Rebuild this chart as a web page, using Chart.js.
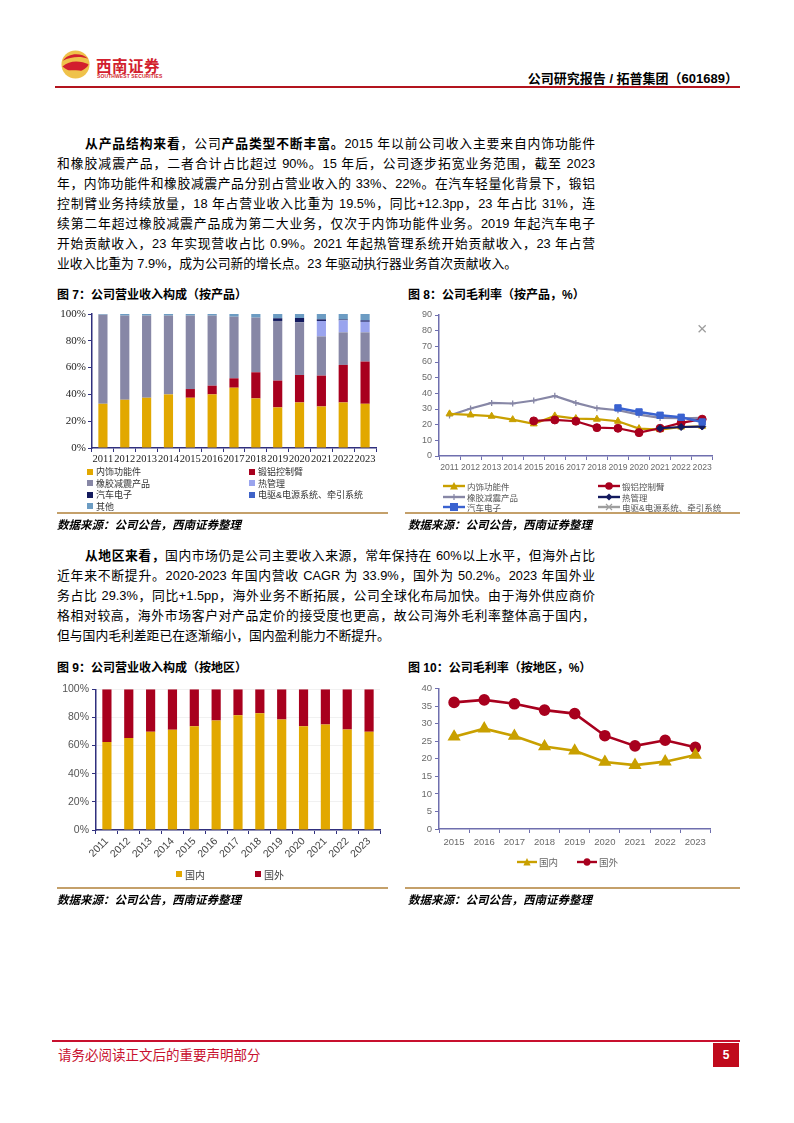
<!DOCTYPE html>
<html lang="zh">
<head>
<meta charset="utf-8">
<script src="https://cdn.jsdelivr.net/npm/chart.js@4.4.1/dist/chart.umd.min.js"></script>
<style>
  body { margin:0; width:794px; height:1123px; background:#fff; position:relative; overflow:hidden;
         font-family:"Liberation Sans","Noto Sans CJK SC",sans-serif; color:#000; }
  .abs { position:absolute; }
  .para div { height:20px; line-height:20px; font-size:12.8px; width:538px; text-align:justify; text-align-last:justify; overflow:hidden; }
  .para div.last { text-align:left; text-align-last:left; width:600px; }
  .para b { font-weight:bold; }
  .ftitle { font-size:12px; font-weight:bold; white-space:nowrap; }
  .src { font-size:11.5px; font-style:italic; font-weight:bold; white-space:nowrap; }
  .sep { height:1.5px; background:#C4A06A; }
  .legend { display:grid; font-size:9px; color:#333; }
  .legend .it { display:flex; align-items:center; white-space:nowrap; }
  .legend .sq { width:6px; height:6px; margin-right:3px; flex:none; }
  .legend svg { margin-right:2px; flex:none; }
</style>
</head>
<body>
<!-- header -->
<svg class="abs" style="left:61px;top:50px" width="29" height="29" viewBox="0 0 30 30">
  <circle cx="15" cy="15" r="14.5" fill="#EFC24B"/>
  <path d="M2,11 C7,3 21,2 28,9 C20,6 10,7 2,11Z" fill="#D21F2E"/>
  <path d="M1.5,17 C9,10 21,11 28.5,15 C24,24 10,25 1.5,17Z" fill="#D21F2E"/>
  <path d="M4,22 C10,20 18,21 25,22 C20,28 9,28 4,22Z" fill="#EFC24B"/>
</svg>
<div class="abs" style="left:96px;top:54px;font-size:15.5px;color:#D21F2E;font-weight:bold;letter-spacing:0.5px;font-family:'Noto Sans CJK SC'">西南证券</div>
<div class="abs" style="left:97px;top:73px;font-size:5px;color:#D21F2E;font-weight:bold;letter-spacing:0.1px">SOUTHWEST SECURITIES</div>
<div class="abs" style="right:56px;top:68px;font-size:13px;font-weight:bold;white-space:nowrap">公司研究报告 / 拓普集团（601689）</div>
<div class="abs" style="left:55px;top:86px;width:685px;height:1.5px;background:#B3141E"></div>

<!-- paragraph 1 -->
<div class="abs para" style="left:57px;top:134px">
  <div style="padding-left:28px;width:510px"><b>从产品结构来看</b>，公司<b>产品类型不断丰富。</b>2015 年以前公司收入主要来自内饰功能件</div>
  <div>和橡胶减震产品，二者合计占比超过 90%。15 年后，公司逐步拓宽业务范围，截至 2023</div>
  <div>年，内饰功能件和橡胶减震产品分别占营业收入的 33%、22%。在汽车轻量化背景下，锻铝</div>
  <div>控制臂业务持续放量，18 年占营业收入比重为 19.5%，同比+12.3pp，23 年占比 31%，连</div>
  <div>续第二年超过橡胶减震产品成为第二大业务，仅次于内饰功能件业务。2019 年起汽车电子</div>
  <div>开始贡献收入，23 年实现营收占比 0.9%。2021 年起热管理系统开始贡献收入，23 年占营</div>
  <div class="last">业收入比重为 7.9%，成为公司新的增长点。23 年驱动执行器业务首次贡献收入。</div>
</div>

<div class="abs ftitle" style="left:57px;top:285px">图 7：公司营业收入构成（按产品）</div>
<div class="abs ftitle" style="left:408px;top:285px">图 8：公司毛利率（按产品，%）</div>

<canvas id="c7" class="abs" style="left:55px;top:305px" width="325" height="165"></canvas>
<canvas id="c8" class="abs" style="left:405px;top:305px" width="314" height="171"></canvas>
<div id="lg7" class="abs legend" style="left:87px;top:466px;grid-template-columns:162px 150px;grid-auto-rows:11.5px"></div>
<div id="lg8" class="abs legend" style="left:443px;top:481px;grid-template-columns:155px 140px;grid-auto-rows:10.4px;font-size:8.5px;color:#555"></div>

<div class="abs sep" style="left:57px;top:512px;width:331px"></div>
<div class="abs sep" style="left:405px;top:512px;width:335px"></div>
<div class="abs src" style="left:57px;top:516px">数据来源：公司公告，西南证券整理</div>
<div class="abs src" style="left:408px;top:516px">数据来源：公司公告，西南证券整理</div>

<!-- paragraph 2 -->
<div class="abs para" style="left:57px;top:546px">
  <div style="padding-left:28px;width:510px"><b>从地区来看，</b>国内市场仍是公司主要收入来源，常年保持在 60%以上水平，但海外占比</div>
  <div>近年来不断提升。2020-2023 年国内营收 CAGR 为 33.9%，国外为 50.2%。2023 年国外业</div>
  <div>务占比 29.3%，同比+1.5pp，海外业务不断拓展，公司全球化布局加快。由于海外供应商价</div>
  <div>格相对较高，海外市场客户对产品定价的接受度也更高，故公司海外毛利率整体高于国内，</div>
  <div class="last">但与国内毛利差距已在逐渐缩小，国内盈利能力不断提升。</div>
</div>

<div class="abs ftitle" style="left:57px;top:658px">图 9：公司营业收入构成（按地区）</div>
<div class="abs ftitle" style="left:408px;top:658px">图 10：公司毛利率（按地区，%）</div>

<canvas id="c9" class="abs" style="left:55px;top:680px" width="327" height="190"></canvas>
<canvas id="c10" class="abs" style="left:405px;top:680px" width="313" height="169"></canvas>
<div id="lg9" class="abs legend" style="left:176px;top:868px;grid-template-columns:79px 60px;grid-auto-rows:12px;font-size:10px;color:#444"></div>
<div id="lg10" class="abs legend" style="left:517px;top:856px;grid-template-columns:60px 60px;grid-auto-rows:12px;font-size:9.5px;color:#666"></div>

<div class="abs sep" style="left:57px;top:887px;width:331px"></div>
<div class="abs sep" style="left:405px;top:887px;width:335px"></div>
<div class="abs src" style="left:57px;top:891px">数据来源：公司公告，西南证券整理</div>
<div class="abs src" style="left:408px;top:891px">数据来源：公司公告，西南证券整理</div>

<!-- footer -->
<div class="abs" style="left:52px;top:1040px;width:688px;height:1.5px;background:#C8102E"></div>
<div class="abs" style="left:58px;top:1044px;font-size:13.5px;color:#C8102E;white-space:nowrap">请务必阅读正文后的重要声明部分</div>
<div class="abs" style="left:713px;top:1043px;width:26px;height:24px;background:#C00A1C;color:#fff;font-size:12px;font-weight:bold;text-align:center;line-height:24px">5</div>

<script>
// ---- data ----
const years = ['2011', '2012', '2013', '2014', '2015', '2016', '2017', '2018', '2019', '2020', '2021', '2022', '2023'];
const years15 = ['2015', '2016', '2017', '2018', '2019', '2020', '2021', '2022', '2023'];

// 图7 revenue mix by product (%)
const shareInterior   = [33, 36, 37.5, 40, 37.5, 40, 45, 37, 30.3, 34, 31, 34, 33];
const shareControlArm = [0, 0, 0, 0, 6.5, 6.5, 7, 19.5, 20, 20.5, 23, 28, 31.5];
const shareRubber     = [66.5, 62.8, 61.3, 58.8, 54.8, 52.3, 46, 40.8, 44.5, 39.3, 29.3, 24.3, 21.8];
const shareThermal    = [0, 0, 0, 0, 0, 0, 0, 0, 0, 0, 11.5, 9, 7.9];
const shareAutoElec   = [0, 0, 0, 0, 0, 0, 0, 0, 2, 3.2, 1.2, 0.6, 1];
const shareEDrive     = [0, 0, 0, 0, 0, 0, 0, 0, 0, 0, 0, 0, 0.3];
const shareOther      = [0.5, 1.2, 1.2, 1.2, 1.2, 1.2, 2, 2.7, 3.2, 3, 4, 4.1, 4.5];

// 图8 gross margin by product (%)
const gmInterior   = [26.9, 26.2, 25.4, 23.2, 20.5, 25.6, 23.9, 23.5, 22.2, 17.5, 16.8, 18.5, 19];
const gmControlArm = [null, null, null, null, 22.4, 23, 22.2, 18.1, 17.7, 14.9, 17.7, 21.1, 23.5];
const gmRubber     = [25.8, 30.3, 33.9, 33.5, 35.4, 38.4, 33.9, 30.5, 29.2, 26.4, 24.3, 24.1, 24.3];
const gmThermal    = [null, null, null, null, null, null, null, null, null, null, 17.7, 18.5, 18.8];
const gmAutoElec   = [null, null, null, null, null, null, null, null, 30.7, 28.1, 26, 24.7, 21.7];
const gmEDrive     = [null, null, null, null, null, null, null, null, null, null, null, null, 81.2];

// 图9 revenue mix by region (%)
const shareDomestic = [62.5, 65.3, 69.8, 71.2, 73.8, 77.8, 81.5, 82.9, 78.5, 73.8, 74.9, 71.5, 69.8];
const shareOverseas = [37.5, 34.7, 30.2, 28.8, 26.2, 22.2, 18.5, 17.1, 21.5, 26.2, 25.1, 28.5, 30.2];

// 图10 gross margin by region (%)
const gmDomestic = [26.3, 28.6, 26.5, 23.5, 22.3, 19.1, 18.2, 19.2, 21.1];
const gmOverseas = [36.1, 36.8, 35.7, 33.9, 32.9, 26.6, 23.7, 25.3, 23.3];

// ---- colours ----
const GOLD = '#E2A800', GOLD_LINE = '#C9A000', RED = '#A8001E', RUBBER = '#8787A6',
      THERMAL = '#9AA4EE', NAVY_S = '#131A5E', EBLUE = '#3A62D0', OTHER = '#6C9CC3';
const AX_DARK = '#30307E', AX_LIGHT = '#6F6FAE';

Chart.defaults.font.family = "'Liberation Sans','Noto Sans CJK SC',sans-serif";
Chart.defaults.animation = false;
Chart.defaults.plugins.legend.display = false;
Chart.defaults.plugins.tooltip.enabled = false;

function axisGrid(color, onChart, gridColor) {
  return { drawOnChartArea: !!onChart, color: gridColor || color, tickColor: color, tickLength: 4, offset: true };
}

// 图7
new Chart(document.getElementById('c7'), {
  type: 'bar',
  data: {
    labels: years,
    datasets: [
      { label: '内饰功能件', data: shareInterior, backgroundColor: GOLD },
      { label: '锻铝控制臂', data: shareControlArm, backgroundColor: RED },
      { label: '橡胶减震产品', data: shareRubber, backgroundColor: RUBBER },
      { label: '热管理', data: shareThermal, backgroundColor: THERMAL },
      { label: '汽车电子', data: shareAutoElec, backgroundColor: NAVY_S },
      { label: '电驱&电源系统、牵引系统', data: shareEDrive, backgroundColor: '#3F63C8' },
      { label: '其他', data: shareOther, backgroundColor: OTHER }
    ]
  },
  options: {
    responsive: false,
    layout: { padding: { top: 9, right: 4 } },
    datasets: { bar: { barPercentage: 0.42, categoryPercentage: 1 } },
    scales: {
      x: {
        stacked: true,
        grid: axisGrid(AX_DARK),
        border: { color: AX_DARK, width: 1.5 },
        ticks: { autoSkip: false, maxRotation: 0, color: '#222', padding: 1, font: { family: 'Liberation Serif', size: 10.5 } },
        afterFit(s) { s.height = 22; }
      },
      y: {
        stacked: true, min: 0, max: 100,
        grid: { drawOnChartArea: false, color: AX_DARK, tickLength: 4 },
        border: { color: AX_DARK, width: 1.5 },
        ticks: { stepSize: 20, color: '#222', padding: 2, font: { family: 'Liberation Serif', size: 11 }, callback: v => v + '%' },
        afterFit(s) { s.width = 37; }
      }
    }
  }
});

// 图8
const lineSets8 = [
  { label: '内饰功能件', data: gmInterior, color: GOLD_LINE, style: 'triangle', r: 4, w: 2.2, order: 3 },
  { label: '锻铝控制臂', data: gmControlArm, color: RED, style: 'circle', r: 4, w: 2.2, order: 2 },
  { label: '橡胶减震产品', data: gmRubber, color: RUBBER, style: 'cross', r: 3, w: 2.2, order: 4 },
  { label: '热管理', data: gmThermal, color: NAVY_S, style: 'rectRot', r: 3.5, w: 2.2, order: 1 },
  { label: '汽车电子', data: gmAutoElec, color: EBLUE, style: 'rect', r: 4.5, w: 2.5, order: 0 },
  { label: '电驱&电源系统、牵引系统', data: gmEDrive, color: '#9E9E9E', style: 'crossRot', r: 5, w: 1.3, order: 5 }
];
new Chart(document.getElementById('c8'), {
  type: 'line',
  data: {
    labels: years,
    datasets: lineSets8.map(d => ({
      label: d.label, data: d.data, borderColor: d.color, backgroundColor: d.color,
      pointStyle: d.style, pointRadius: d.r, borderWidth: d.w, pointBorderWidth: d.style.startsWith('cross') ? 1.3 : 1,
      order: d.order
    }))
  },
  options: {
    responsive: false,
    layout: { padding: { top: 10, right: 4 } },
    scales: {
      x: {
        offset: true,
        grid: axisGrid(AX_LIGHT),
        border: { color: AX_LIGHT, width: 1.5 },
        ticks: { autoSkip: false, maxRotation: 0, color: '#6A6A6A', padding: 2, font: { size: 8.6 } },
        afterFit(s) { s.height = 20; }
      },
      y: {
        min: 0, max: 90,
        grid: { drawOnChartArea: false, color: AX_LIGHT, tickLength: 4 },
        border: { color: AX_LIGHT, width: 1.5 },
        ticks: { stepSize: 10, color: '#6A6A6A', padding: 3, font: { size: 9 } },
        afterFit(s) { s.width = 34; }
      }
    }
  }
});

// 图9
new Chart(document.getElementById('c9'), {
  type: 'bar',
  data: {
    labels: years,
    datasets: [
      { label: '国内', data: shareDomestic, backgroundColor: GOLD },
      { label: '国外', data: shareOverseas, backgroundColor: RED }
    ]
  },
  options: {
    responsive: false,
    layout: { padding: { top: 8, right: 2 } },
    datasets: { bar: { barPercentage: 0.42, categoryPercentage: 1 } },
    scales: {
      x: {
        stacked: true,
        grid: axisGrid(AX_DARK),
        border: { color: AX_DARK, width: 1.5 },
        ticks: { autoSkip: false, minRotation: 45, maxRotation: 45, color: '#444', padding: 1, font: { size: 10.5 } },
        afterFit(s) { s.height = 40; }
      },
      y: {
        stacked: true, min: 0, max: 100,
        grid: { drawOnChartArea: true, color: '#F1F1F1', tickColor: AX_DARK, tickLength: 4 },
        border: { color: AX_DARK, width: 1.5 },
        ticks: { stepSize: 20, color: '#555', padding: 3, font: { size: 10.5 }, callback: v => v + '%' },
        afterFit(s) { s.width = 41; }
      }
    }
  }
});

// 图10
const lineSets10 = [
  { label: '国内', data: gmDomestic, color: GOLD_LINE, style: 'triangle', r: 5 },
  { label: '国外', data: gmOverseas, color: RED, style: 'circle', r: 4.5 }
];
new Chart(document.getElementById('c10'), {
  type: 'line',
  data: {
    labels: years15,
    datasets: lineSets10.map(d => ({
      label: d.label, data: d.data, borderColor: d.color, backgroundColor: d.color,
      pointStyle: d.style, pointRadius: d.r, borderWidth: 2.6
    }))
  },
  options: {
    responsive: false,
    layout: { padding: { top: 7, right: 2 } },
    scales: {
      x: {
        offset: true,
        grid: axisGrid(AX_LIGHT),
        border: { color: AX_LIGHT, width: 1.5 },
        ticks: { autoSkip: false, maxRotation: 0, color: '#6A6A6A', padding: 4, font: { size: 9.5 } },
        afterFit(s) { s.height = 20; }
      },
      y: {
        min: 0, max: 40,
        grid: { drawOnChartArea: false, color: AX_LIGHT, tickLength: 4 },
        border: { color: AX_LIGHT, width: 1.5 },
        ticks: { stepSize: 5, color: '#6A6A6A', padding: 3, font: { size: 9.5 } },
        afterFit(s) { s.width = 34; }
      }
    }
  }
});

// ---- html legends ----
function marker(style, c) {
  switch (style) {
    case 'triangle': return `<polygon points="11,1 15,8.5 7,8.5" fill="${c}"/>`;
    case 'circle': return `<circle cx="11" cy="5" r="3.8" fill="${c}"/>`;
    case 'rect': return `<rect x="7" y="1" width="8" height="8" fill="${c}"/>`;
    case 'rectRot': return `<polygon points="11,1.5 14.5,5 11,8.5 7.5,5" fill="${c}"/>`;
    case 'cross': return `<path d="M11,2 V8 M8,5 H14" stroke="${c}" stroke-width="1.2"/>`;
    case 'crossRot': return `<path d="M8,2 L14,8 M14,2 L8,8" stroke="${c}" stroke-width="1.2"/>`;
  }
  return '';
}
function lineLegend(id, sets, w) {
  document.getElementById(id).innerHTML = sets.map(d =>
    `<div class="it"><svg width="${w}" height="10" viewBox="0 0 22 10" preserveAspectRatio="none"><line x1="0" y1="5" x2="22" y2="5" stroke="${d.color}" stroke-width="2.4"/>${marker(d.style, d.color)}</svg>${d.label}</div>`
  ).join('');
}
function boxLegend(id, labels, colors) {
  document.getElementById(id).innerHTML = labels.map((l, i) =>
    `<div class="it"><span class="sq" style="background:${colors[i]}"></span>${l}</div>`
  ).join('');
}
boxLegend('lg7', ['内饰功能件', '锻铝控制臂', '橡胶减震产品', '热管理', '汽车电子', '电驱&电源系统、牵引系统', '其他'],
  [GOLD, RED, RUBBER, THERMAL, NAVY_S, '#3F63C8', OTHER]);
lineLegend('lg8', lineSets8, 22);
boxLegend('lg9', ['国内', '国外'], [GOLD, RED]);
lineLegend('lg10', lineSets10, 20);
</script>
</body>
</html>
